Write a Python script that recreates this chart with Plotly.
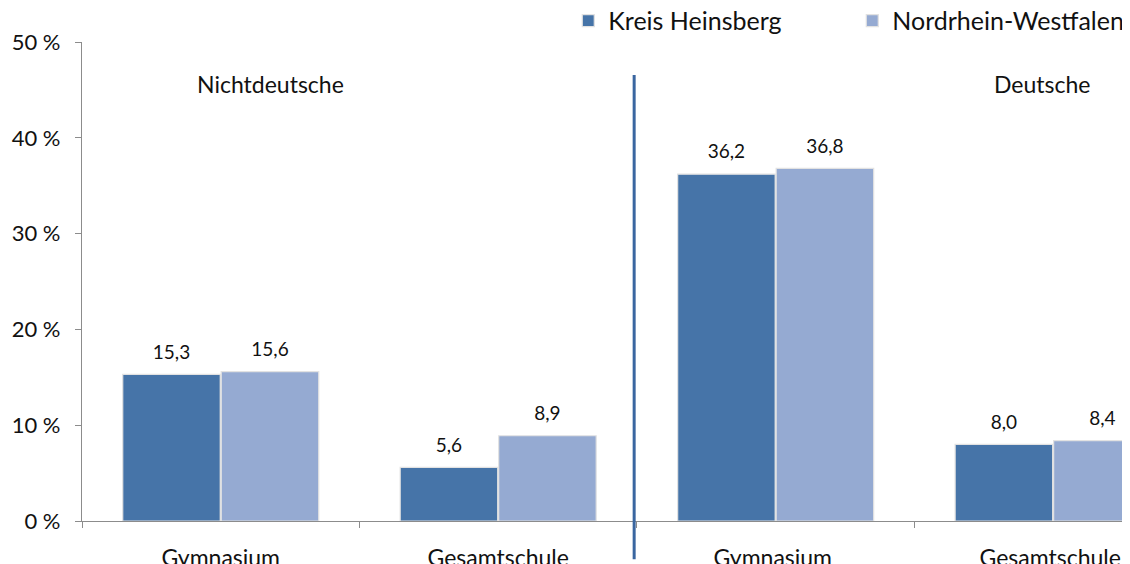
import plotly.graph_objects as go

categories = ["Gymnasium", "Gesamtschule", "Gymnasium ", "Gesamtschule "]
kreis_heinsberg = [15.3, 5.6, 36.2, 8.0]
nrw = [15.6, 8.9, 36.8, 8.4]
y_ticks = [0, 10, 20, 30, 40, 50]
y_tick_labels = ["0 %", "10 %", "20 %", "30 %", "40 %", "50 %"]
group_labels = ["Nichtdeutsche", "Deutsche"]

DARK = "#4674A8"
LIGHT = "#95AAD2"
FONT = "Lato, Open Sans, sans-serif"
GAP = 0.29


def de_label(v):
    # German decimal comma
    return f"{v:.1f}".replace(".", ",")


fig = go.Figure()
for name, vals, color in [("Kreis Heinsberg", kreis_heinsberg, DARK),
                          ("Nordrhein-Westfalen", nrw, LIGHT)]:
    fig.add_trace(go.Bar(
        x=categories, y=vals, name=name,
        marker=dict(color=color, line=dict(color="#e2e2e2", width=1.2)),
        hoverinfo="skip",
    ))

# value labels, grouped like the bars
for vals in [kreis_heinsberg, nrw]:
    fig.add_trace(go.Scatter(
        x=categories, y=vals, mode="markers+text",
        text=[de_label(v) for v in vals], textposition="top center",
        textfont=dict(size=19, color="#111", family=FONT),
        marker=dict(size=16, color="rgba(0,0,0,0)"),
        showlegend=False, hoverinfo="skip", cliponaxis=False,
    ))

# separator between the two groups
fig.add_shape(type="line", xref="x", yref="paper", x0=1.49, x1=1.49,
              y0=-0.08, y1=0.931, line=dict(color="#3A66A0", width=3))

fig.add_annotation(x=0.18, y=45.6, text=group_labels[0], showarrow=False,
                   font=dict(size=23, color="#111", family=FONT))
fig.add_annotation(x=2.96, y=45.6, text=group_labels[1], showarrow=False,
                   font=dict(size=23, color="#111", family=FONT))

# page has an 8px body margin, so the figure is sized to fit the window
fig.update_layout(
    width=1122, height=556,
    margin=dict(l=74, r=0, t=34, b=43, autoexpand=False),
    paper_bgcolor="white", plot_bgcolor="white",
    font=dict(family=FONT, color="#111"),
    barmode="group", bargap=GAP, bargroupgap=0.01,
    scattermode="group", scattergap=GAP,
    showlegend=True,
    legend=dict(orientation="h", x=0.464, xanchor="left", y=0.996, yanchor="bottom",
                font=dict(size=25), entrywidth=239, itemwidth=30,
                bgcolor="rgba(0,0,0,0)"),
)
fig.update_xaxes(
    range=[-0.5, 3.277], showgrid=False, showline=True, linecolor="#8c8c8c", linewidth=1.2,
    ticks="outside", tickson="boundaries", ticklen=6, tickcolor="#8c8c8c",
    tickfont=dict(size=23), ticklabelstandoff=16, automargin=False,
)
fig.update_yaxes(
    range=[0, 50], tickvals=y_ticks, ticktext=y_tick_labels, showgrid=False,
    showline=True, linecolor="#8c8c8c", linewidth=1.2,
    ticks="outside", ticklen=6, tickcolor="#8c8c8c", tickfont=dict(size=22),
    ticklabelstandoff=10, zeroline=False, automargin=False,
)

fig.write_html("out.html")
